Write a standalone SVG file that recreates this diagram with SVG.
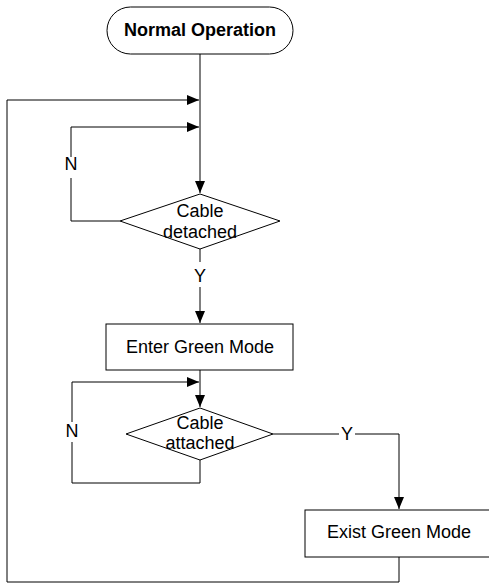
<svg xmlns="http://www.w3.org/2000/svg" width="489" height="583" viewBox="0 0 489 583">
<defs>
<style>
.shape{fill:#fff;stroke:#000;stroke-width:1}
.ln{fill:none;stroke:#000;stroke-width:1}
text{font-family:"Liberation Sans",Arial,sans-serif;font-size:18px;fill:#000;text-anchor:middle}
.b{font-weight:bold}
</style>
<marker id="ah" markerUnits="userSpaceOnUse" markerWidth="13" markerHeight="11" refX="12" refY="5" orient="auto">
<path d="M0,0 L12,5 L0,10 Z" fill="#000"/>
</marker>
</defs>
<rect width="489" height="583" fill="#fff"/>
<g id="connectors">
<path class="ln" d="M200,54 V193" marker-end="url(#ah)"/>
<path class="ln" d="M7,100 H199" marker-end="url(#ah)"/>
<path class="ln" d="M120,221 H71 V178"/>
<path class="ln" d="M71,157 V127 H199" marker-end="url(#ah)"/>
<path class="ln" d="M200,249 V262"/>
<path class="ln" d="M200,287 V323" marker-end="url(#ah)"/>
<path class="ln" d="M200,370 V407" marker-end="url(#ah)"/>
<path class="ln" d="M200,460 V483 H72 V442"/>
<path class="ln" d="M72,422 V382 H199" marker-end="url(#ah)"/>
<path class="ln" d="M273,434 H339"/>
<path class="ln" d="M355,434 H399 V509" marker-end="url(#ah)"/>
<path class="ln" d="M399,557 V582 H7 V100"/>
<text x="71" y="170">N</text>
<text x="200" y="282">Y</text>
<text x="72" y="437">N</text>
<text x="347" y="440">Y</text>
</g>
<g id="normal-operation">
<rect class="shape" x="107" y="7" width="186" height="47" rx="23.5"/>
<text class="b" x="200" y="36">Normal Operation</text>
</g>
<g id="cable-detached">
<polygon class="shape" points="200,194 280,221 200,249 120,221"/>
<text x="200" y="217">Cable</text>
<text x="200" y="238">detached</text>
</g>
<g id="enter-green-mode">
<rect class="shape" x="106" y="324" width="187" height="46"/>
<text x="200" y="353">Enter Green Mode</text>
</g>
<g id="cable-attached">
<polygon class="shape" points="200,408 273,434 200,460 126,434"/>
<text x="200" y="429">Cable</text>
<text x="200" y="449">attached</text>
</g>
<g id="exist-green-mode">
<rect class="shape" x="305" y="510" width="190" height="47"/>
<text x="399" y="538">Exist Green Mode</text>
</g>
</svg>
